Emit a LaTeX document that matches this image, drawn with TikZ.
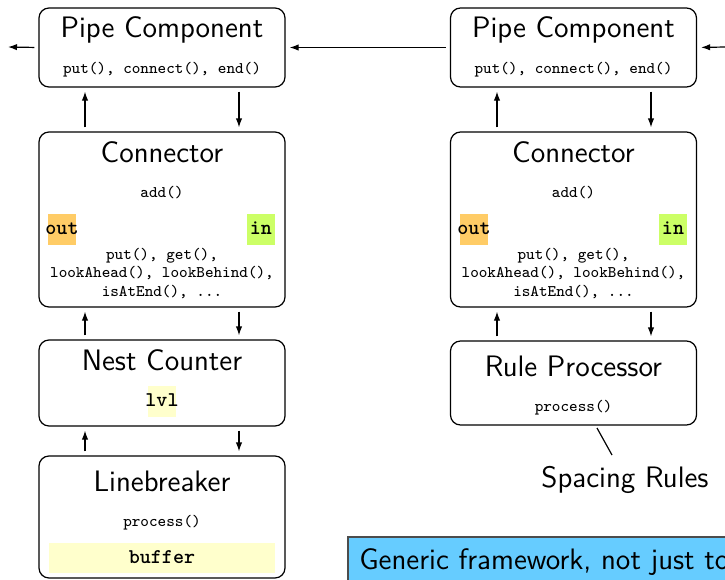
\documentclass[tikz,border=0pt]{standalone}
\usetikzlibrary{arrows.meta}
\definecolor{outcol}{HTML}{FFCC66}
\definecolor{incol}{HTML}{CCFF66}
\definecolor{varcol}{HTML}{FFFFCC}
\definecolor{notecol}{HTML}{66CCFF}
\begin{document}
\begin{tikzpicture}[x=0.5pt,y=-0.5pt,
  box/.style={draw, rounded corners=5pt, line width=0.6pt, minimum width=123pt, inner sep=0pt},
  title/.style={font=\sffamily\fontsize{14.8}{17}\selectfont, anchor=base, inner sep=0pt},
  meth/.style={font=\ttfamily\fontsize{8.1}{9.5}\selectfont, anchor=base, inner sep=0pt},
  var/.style={font=\ttfamily\bfseries\fontsize{10.5}{12}\selectfont, anchor=base, inner sep=0pt},
  flow/.style={-{Latex[length=4.5pt,width=3.2pt]}, line width=0.6pt, shorten <=2pt, shorten >=2pt}
]
\useasboundingbox (0,0) rectangle (725,580);
\clip (0,0) rectangle (725,580);

% ---------------- left pipeline ----------------
\node[box, minimum height=39.5pt] (pipeL) at (162,47.5) {};
\node[title] (pipeLt) at (162,37) {Pipe Component};
\node[meth] (pipeLm) at (162,73) {put(), connect(), end()};

\node[box, minimum height=87.5pt] (conL) at (162,219.5) {};
\node[title] (conLt) at (162,162) {Connector};
\node[meth] (conLa) at (162,197) {add()};
\fill[outcol] (48,214) rectangle (76,245);
\fill[incol] (247,214) rectangle (275,245);
\node[var] (conLo) at (62,234) {out};
\node[var] (conLi) at (261,234) {in};
\node[meth] (conLm1) at (162,259) {put(), get(),};
\node[meth] (conLm2) at (162,277.5) {lookAhead(), lookBehind(),};
\node[meth] (conLm3) at (162,296) {isAtEnd(), ...};

\node[box, minimum height=43pt] (nest) at (162,383) {};
\node[title] (nestt) at (162,370) {Nest Counter};
\fill[varcol] (148,386) rectangle (176,417);
\node[var] (nestv) at (162,406) {lvl};

\node[box, minimum height=61pt] (lb) at (162,517) {};
\node[title] (lbt) at (162,491) {Linebreaker};
\node[meth] (lbm) at (162,526) {process()};
\fill[varcol] (49,543) rectangle (275,573);
\node[var] (lbv) at (162,563) {buffer};

% ---------------- right pipeline ----------------
\node[box, minimum height=39.5pt] (pipeR) at (573.5,47.5) {};
\node[title] (pipeRt) at (573.5,37) {Pipe Component};
\node[meth] (pipeRm) at (573.5,73) {put(), connect(), end()};

\node[box, minimum height=87.5pt] (conR) at (573.5,219.5) {};
\node[title] (conRt) at (573.5,162) {Connector};
\node[meth] (conRa) at (573.5,197) {add()};
\fill[outcol] (460,214) rectangle (488,245);
\fill[incol] (659,214) rectangle (687,245);
\node[var] (conRo) at (474,234) {out};
\node[var] (conRi) at (673,234) {in};
\node[meth] (conRm1) at (573.5,259) {put(), get(),};
\node[meth] (conRm2) at (573.5,277.5) {lookAhead(), lookBehind(),};
\node[meth] (conRm3) at (573.5,296) {isAtEnd(), ...};

\node[box, minimum height=42pt] (rule) at (573.5,383) {};
\node[title] (rulet) at (573.5,376) {Rule Processor};
\node[meth] (rulem) at (573.5,411) {process()};

\node[title] (spacing) at (625,487) {Spacing Rules};
\coordinate (spA) at (597,428);
\coordinate (spB) at (612,455);
\draw[line width=0.6pt] (spA) -- (spB);

% ---------------- connectors ----------------
\coordinate (exitL) at (8,47);
\coordinate (enterR) at (725,47);
\draw[flow, shorten >=0pt] (pipeL.west) -- (exitL);
\draw[flow] (pipeR.west) -- (pipeL.east);
\draw[flow, shorten <=0pt] (enterR) -- (pipeR.east);

\coordinate (upL) at (85,0);
\coordinate (dnL) at (239,0);
\coordinate (upR) at (497,0);
\coordinate (dnR) at (651,0);

\draw[flow] (conL.north -| upL) -- (pipeL.south -| upL);
\draw[flow] (pipeL.south -| dnL) -- (conL.north -| dnL);
\draw[flow] (nest.north -| upL) -- (conL.south -| upL);
\draw[flow] (conL.south -| dnL) -- (nest.north -| dnL);
\draw[flow] (lb.north -| upL) -- (nest.south -| upL);
\draw[flow] (nest.south -| dnL) -- (lb.north -| dnL);

\draw[flow] (conR.north -| upR) -- (pipeR.south -| upR);
\draw[flow] (pipeR.south -| dnR) -- (conR.north -| dnR);
\draw[flow] (rule.north -| upR) -- (conR.south -| upR);
\draw[flow] (conR.south -| dnR) -- (rule.north -| dnR);

% ---------------- note ----------------
\draw[fill=notecol, draw=black!70, line width=0.6pt] (348,537) rectangle (760,620);
\node[title, anchor=base west] (note) at (359,569) {Generic framework, not just to};
\end{tikzpicture}
\end{document}
